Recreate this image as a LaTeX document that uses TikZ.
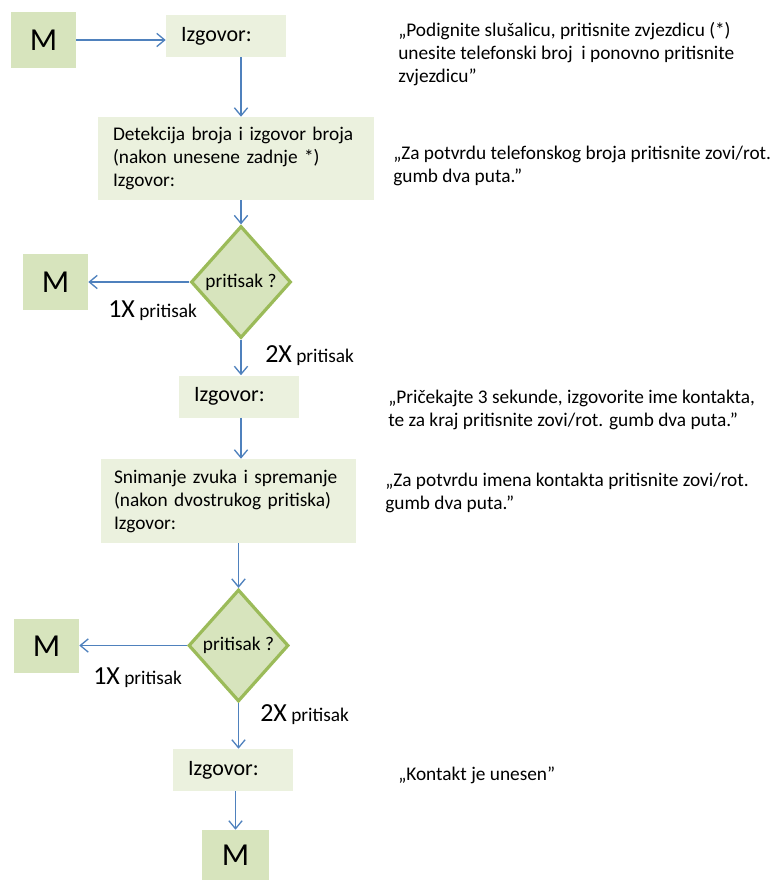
\documentclass[tikz,border=0pt]{standalone}
\usepackage{fontspec}
\setmainfont{Carlito}
\usepackage{tikz}
\usetikzlibrary{shapes,arrows,arrows.meta,positioning}
\definecolor{mfill}{HTML}{D7E4BD}
\definecolor{boxfill}{HTML}{EBF1DE}
\definecolor{condline}{HTML}{9BBB59}
\definecolor{arrowblue}{HTML}{4F81BD}
\newcommand{\bodyfont}{\fontsize{14.5}{17.25}\selectfont}
\newcommand{\timesfont}{\fontsize{19.5}{20}\selectfont}
\tikzstyle{mnode} = [rectangle, fill=mfill, minimum width=48.75pt, minimum height=42pt, inner sep=0pt, font=\fontsize{24}{28}\selectfont]
\tikzstyle{sbox} = [rectangle, fill=boxfill, minimum height=31.5pt, inner xsep=11.25pt, text width=67.5pt, align=left, font=\fontsize{16.5}{20}\selectfont]
\tikzstyle{tbox} = [rectangle, fill=boxfill, inner ysep=0pt, align=left, font=\bodyfont]
\tikzstyle{cond} = [diamond, fill=mfill, draw=condline, line width=2.4pt, minimum width=75pt, minimum height=84pt, inner sep=0pt, font=\bodyfont]
\tikzstyle{note} = [inner sep=0pt, anchor=base west, align=left, font=\bodyfont]
\tikzstyle{line} = [draw=arrowblue, line width=1pt, -{Straight Barb[length=6pt,width=10pt]}]

\begin{document}
\begin{tikzpicture}[x=0.75pt, y=-0.75pt]
			\useasboundingbox (0, 0) rectangle (778, 880);

			\node [mnode] (m1) at (43.5, 40) {M};
			\node [sbox] (izg1) at (226, 36) {Izgovor:};
			\node [tbox, minimum width=207pt, minimum height=62.25pt, inner xsep=11.25pt, text width=184.5pt] (det) at (236, 158.5) {Detekcija broja i izgovor broja\\(nakon unesene zadnje *)\\Izgovor:};
			\node [cond] (cond1) at (241, 282) {pritisak ?};
			\node [mnode] (m2) at (55.5, 282) {M};
			\node [sbox] (izg2) at (239, 396.5) {Izgovor:};
			\node [tbox, minimum width=191.25pt, minimum height=63pt, inner xsep=9.75pt, text width=171.75pt] (snim) at (228.5, 501) {Snimanje zvuka i spremanje\\(nakon dvostrukog pritiska)\\Izgovor:};
			\node [cond] (cond2) at (238.5, 645.5) {pritisak ?};
			\node [mnode, minimum height=40.5pt] (m3) at (46.5, 646) {M};
			\node [sbox] (izg3) at (233, 770) {Izgovor:};
			\node [mnode, minimum width=50.25pt, minimum height=37.5pt] (m4) at (235.5, 855) {M};

			\node [note] (once1) at (108, 317) {{\timesfont 1X} pritisak};
			\node [note] (twice1) at (265, 362) {{\timesfont 2X} pritisak};
			\node [note] (once2) at (93, 684) {{\timesfont 1X} pritisak};
			\node [note] (twice2) at (260, 721) {{\timesfont 2X} pritisak};

			\node [note] (say1) at (398, 83) {„Podignite slušalicu, pritisnite zvjezdicu (*)\\unesite telefonski broj \ i ponovno pritisnite\\zvjezdicu”};
			\node [note] (say2) at (393, 183) {„Za potvrdu telefonskog broja pritisnite zovi/rot.\\gumb dva puta.”};
			\node [note] (say3) at (388, 426) {„Pričekajte 3 sekunde, izgovorite ime kontakta,\\te za kraj pritisnite zovi/rot. gumb dva puta.”};
			\node [note] (say4) at (385, 509) {„Za potvrdu imena kontakta pritisnite zovi/rot.\\gumb dva puta.”};
			\node [note] (say5) at (398, 780) {„Kontakt je unesen”};

			\path [line] (m1.east) -- (m1.east -| izg1.west);
			\path [line] (izg1.south -| cond1) -- (det.north -| cond1);
			\path [line] (det.south -| cond1) -- (cond1.north);
			\path [line] (cond1.west) -- (m2.east);
			\path [line] (cond1.south) -- (izg2.north -| cond1);
			\path [line] (izg2.south -| cond1) -- (snim.north -| cond1);
			\path [line] (snim.south -| cond2) -- (cond2.north);
			\path [line] (cond2.west) -- (cond2.west -| m3.east);
			\path [line] (cond2.south) -- (izg3.north -| cond2);
			\path [line] (izg3.south -| m4.north) -- (m4.north);
		\end{tikzpicture}
\end{document}
